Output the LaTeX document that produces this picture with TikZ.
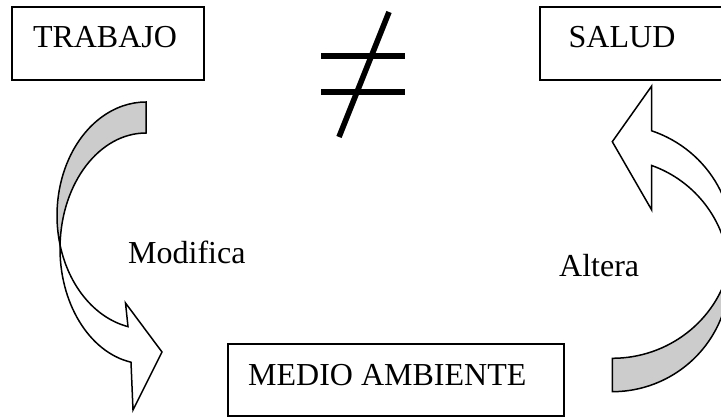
\documentclass[tikz,border=0pt]{standalone}
\usepackage{fontspec}
\setmainfont{Liberation Serif}
\begin{document}
\begin{tikzpicture}[x=1pt,y=-1pt,
  box/.style={draw, line width=1.8pt, inner sep=0pt},
  txt/.style={inner sep=0pt, anchor=base west, font=\fontsize{32}{38}\selectfont},
  band/.style={draw, line width=1.5pt, line join=miter},
  back/.style={band, fill=black!20},
  front/.style={band, fill=white},
  neqbar/.style={line width=6pt},
  neqslash/.style={line width=5.6pt}]
\useasboundingbox (0,0) rectangle (721,417);
\clip (0,0) rectangle (721,417);
\fill[white] (0,0) rectangle (721,417);

% boxes
\node[box, minimum width=192.3pt, minimum height=72.7pt] (trabajo) at (107.85,43.65) {};
\node[box, minimum width=200pt, minimum height=72.7pt] (salud) at (640,43.65) {};
\node[box, minimum width=336.3pt, minimum height=72pt] (medio) at (396.15,380) {};

% texts
\node[txt] (ttrabajo) at (32.8,48) {TRABAJO};
\node[txt] (tsalud) at (568.5,48) {SALUD};
\node[txt] (tmedio) at (248,385) {MEDIO AMBIENTE};
\node[txt] (modifica) at (128,264) {Modifica};
\node[txt] (altera) at (559,276.7) {Altera};

% not-equal sign
\draw[neqbar] (321,56) -- (405,56);
\draw[neqbar] (321,92.5) -- (405,92.5);
\draw[neqslash] (389,12) -- (339,137);

% left curved arrow (Modifica)
\draw[back] (146,102) arc[start angle=270, end angle=164.93, x radius=89, y radius=113.5]
  arc[start angle=181.74, end angle=270, x radius=86, y radius=115.5] -- cycle;
\draw[front] (60.06,245) arc[start angle=164.93, end angle=101.67, x radius=89, y radius=113.5]
  -- (125.5,303) -- (162,352) -- (133,410) -- (131,362.2)
  arc[start angle=100.04, end angle=181.74, x radius=86, y radius=115.5] -- cycle;

% right curved arrow (Altera)
\draw[back] (612.3,358.3) arc[start angle=90, end angle=13.19, x radius=120, y radius=117]
  arc[start angle=-3.54, end angle=90, x radius=117, y radius=116.5] -- cycle;
\draw[front] (729.1,268) arc[start angle=13.19, end angle=-70.83, x radius=120, y radius=117]
  -- (651.7,86) -- (612.3,141.7) -- (651.7,210) -- (651.7,165.5)
  arc[start angle=-70.32, end angle=-3.54, x radius=117, y radius=116.5] -- cycle;
\end{tikzpicture}
\end{document}
